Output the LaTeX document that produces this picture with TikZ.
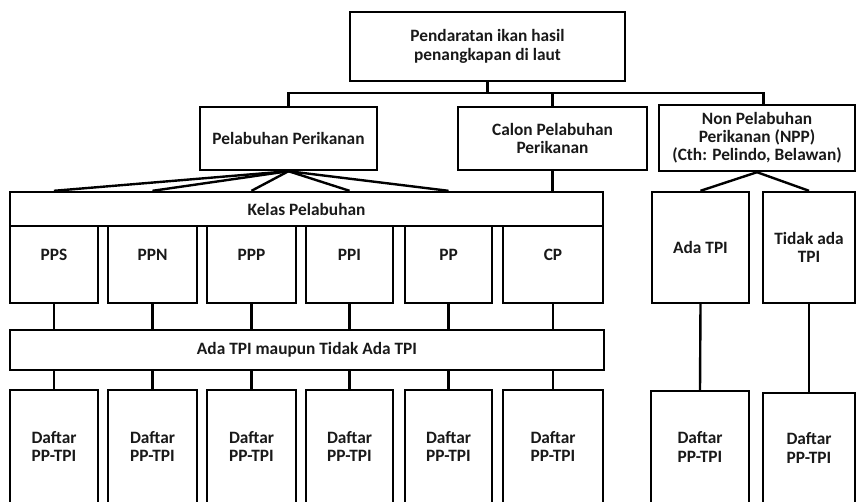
\documentclass[tikz,border=0pt]{standalone}
\usepackage{fontspec}
\setmainfont{Carlito}
\usetikzlibrary{positioning}

\tikzset{every picture/.style={line width=1.8pt}}
\tikzset{
  cell/.style 2 args={draw, inner sep=0pt, align=center, minimum width=#1, minimum height=#2,
    text=black!90, font=\bfseries\fontsize{13}{14}\selectfont},
  lbl/.style={inner sep=0pt, text=black!90, font=\bfseries\fontsize{13}{14}\selectfont}
}

\begin{document}
\begin{tikzpicture}[x=0.75pt,y=0.75pt,yscale=-1,xscale=1]
	\useasboundingbox (0,0) rectangle (856,501);

	% Text Node
	\node[cell={206.25pt}{51.75pt}] (top) at (487.5,46.5) {Pendaratan ikan hasil\\penangkapan di laut};
	% Text Node
	\node[cell={132.75pt}{47.25pt}] (pp) at (288.5,138.5) {Pelabuhan Perikanan};
	% Text Node
	\node[cell={141.75pt}{47.25pt}] (cpp) at (552.5,138.5) {Calon Pelabuhan\\Perikanan};
	% Text Node
	\node[cell={147pt}{49.5pt}, font=\bfseries\fontsize{13}{13.5}\selectfont] (npp) at (757,138) {Non Pelabuhan\\Perikanan (NPP)\\(Cth: Pelindo, Belawan)};

	% Text Node
	\node[cell={444.75pt}{25.5pt}] (kelas) at (306.5,209) {Kelas Pelabuhan};

	%Shape: Rectangle
	\node[cell={66pt}{57.75pt}] (pps) at (54,264.5) {};
	\node[cell={66.75pt}{57.75pt}] (ppn) at (152.5,264.5) {};
	\node[cell={66.75pt}{57.75pt}] (ppp) at (251.5,264.5) {};
	\node[cell={65.25pt}{57.75pt}] (ppi) at (349.5,264.5) {};
	\node[cell={65.25pt}{57.75pt}] (ppk) at (448.5,264.5) {};
	\node[cell={75pt}{57.75pt}] (cp) at (553,264.5) {};
	% Text Node
	\node[lbl] (lpps) at ([yshift=22.5pt]pps.north) {PPS};
	\node[lbl] (lppn) at ([yshift=22.5pt]ppn.north) {PPN};
	\node[lbl] (lppp) at ([yshift=22.5pt]ppp.north) {PPP};
	\node[lbl] (lppi) at ([yshift=22.5pt]ppi.north) {PPI};
	\node[lbl] (lppk) at ([yshift=22.5pt]ppk.north) {PP};
	\node[lbl] (lcp) at ([yshift=22.5pt]cp.north) {CP};

	% Text Node
	\node[cell={445.5pt}{30pt}] (ada) at (307,350) {Ada TPI maupun Tidak Ada TPI};

	% Text Node
	\node[cell={66pt}{84.75pt}] (dpps) at (54,446.5) {Daftar\\PP-TPI};
	\node[cell={66.75pt}{84.75pt}] (dppn) at (152.5,446.5) {Daftar\\PP-TPI};
	\node[cell={66.75pt}{84.75pt}] (dppp) at (251.5,446.5) {Daftar\\PP-TPI};
	\node[cell={65.25pt}{84.75pt}] (dppi) at (349.5,446.5) {Daftar\\PP-TPI};
	\node[cell={65.25pt}{84.75pt}] (dppk) at (448.5,446.5) {Daftar\\PP-TPI};
	\node[cell={75pt}{84.75pt}] (dcp) at (553,446.5) {Daftar\\PP-TPI};

	% Text Node
	\node[cell={72.75pt}{83.25pt}] (adatpi) at (700.5,247.5) {Ada TPI};
	\node[cell={69pt}{83.25pt}] (tidak) at (809,247.5) {Tidak ada\\TPI};
	\node[cell={73.5pt}{84pt}] (dada) at (700,447) {Daftar\\PP-TPI};
	\node[cell={69pt}{82.5pt}] (dtidak) at (809,448) {Daftar\\PP-TPI};

	%Straight Lines
	\coordinate (bus) at (487.5,93);
	\draw (top.south) -- (bus);
	\draw (pp.north) |- (bus) -| ([xshift=5pt]npp.north);
	\draw (cpp.north) -- (cpp.north |- bus);

	% fan to kelas
	\draw [line join=round] (pp.south) -- (pps.north |- kelas.north);
	\draw [line join=round] (pp.south) -- (ppn.north |- kelas.north);
	\draw [line join=round] (pp.south) -- (ppp.north |- kelas.north);
	\draw [line join=round] (pp.south) -- (ppi.north |- kelas.north);
	\draw [line join=round] (pp.south) -- (ppk.north |- kelas.north);
	\draw (cpp.south) -- (cpp.south |- kelas.north);

	% stems
	\draw (pps.south) -- (pps.south |- ada.north);
	\draw (ppn.south) -- (ppn.south |- ada.north);
	\draw (ppp.south) -- (ppp.south |- ada.north);
	\draw (ppi.south) -- (ppi.south |- ada.north);
	\draw (ppk.south) -- (ppk.south |- ada.north);
	\draw (cp.south) -- (cp.south |- ada.north);
	\draw (pps.south |- ada.south) -- (dpps.north);
	\draw (ppn.south |- ada.south) -- (dppn.north);
	\draw (ppp.south |- ada.south) -- (dppp.north);
	\draw (ppi.south |- ada.south) -- (dppi.north);
	\draw (ppk.south |- ada.south) -- (dppk.north);
	\draw (cp.south |- ada.south) -- (dcp.north);

	% non pelabuhan
	\draw (npp.south) -- (adatpi.north);
	\draw (npp.south) -- (tidak.north);
	\draw (adatpi.south) -- (dada.north);
	\draw (tidak.south) -- (dtidak.north);

\end{tikzpicture}
\end{document}
